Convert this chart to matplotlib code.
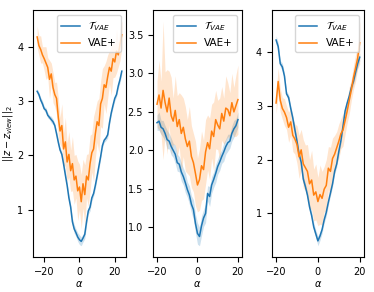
import numpy as np
import matplotlib.pyplot as plt

plt.rcParams['font.size'] = 7

# alpha grid for each panel
alpha1 = np.arange(-24, 25)
alpha2 = np.arange(-20, 21)
alpha3 = np.arange(-20, 21)

# panel 1
blue1 = [3.18, 3.12, 3.02, 2.95, 2.86, 2.83, 2.74, 2.70, 2.66, 2.62, 2.55, 2.40, 2.24, 2.10, 2.02, 1.84,
         1.64, 1.45, 1.22, 1.05, 0.78, 0.65, 0.58, 0.50, 0.45, 0.42, 0.48, 0.55, 0.78, 0.98, 1.05, 1.22,
         1.30, 1.45, 1.62, 1.80, 1.98, 2.18, 2.28, 2.32, 2.38, 2.60, 2.78, 2.92, 3.05, 3.12, 3.28, 3.40, 3.55]
err_b1 = [0.05, 0.04, 0.05, 0.06, 0.04, 0.05, 0.05, 0.04, 0.06, 0.05, 0.04, 0.05, 0.06, 0.05, 0.05, 0.06,
          0.07, 0.06, 0.07, 0.06, 0.07, 0.08, 0.07, 0.08, 0.09, 0.08, 0.07, 0.08, 0.07, 0.06, 0.07, 0.06,
          0.05, 0.06, 0.05, 0.06, 0.05, 0.05, 0.04, 0.05, 0.06, 0.05, 0.04, 0.05, 0.05, 0.04, 0.05, 0.06, 0.05]
orange1 = [4.18, 4.02, 3.95, 3.85, 3.78, 3.70, 3.62, 3.40, 3.50, 3.25, 3.12, 3.05, 2.70, 2.45, 2.55, 2.12,
           2.25, 1.88, 2.02, 1.72, 1.85, 1.55, 1.62, 1.35, 1.42, 1.15, 1.48, 1.28, 1.62, 1.55, 1.85, 2.05,
           2.12, 2.40, 2.62, 2.55, 2.95, 3.05, 3.30, 3.25, 3.45, 3.62, 3.55, 3.78, 3.72, 3.92, 3.85, 4.05, 4.22]
err_o1 = [0.20, 0.18, 0.25, 0.15, 0.22, 0.30, 0.18, 0.35, 0.20, 0.28, 0.22, 0.30, 0.35, 0.25, 0.40, 0.30,
          0.45, 0.35, 0.42, 0.38, 0.50, 0.45, 0.40, 0.55, 0.42, 0.50, 0.45, 0.55, 0.40, 0.48, 0.52, 0.35,
          0.60, 0.45, 0.38, 0.50, 0.42, 0.55, 0.35, 0.48, 0.40, 0.30, 0.45, 0.35, 0.28, 0.40, 0.22, 0.30, 0.25]

# panel 2
blue2 = [2.36, 2.38, 2.30, 2.28, 2.22, 2.14, 2.12, 2.05, 2.00, 1.95, 1.84, 1.82, 1.72, 1.66, 1.58, 1.49,
         1.42, 1.30, 1.23, 1.05, 0.92, 0.88, 1.02, 1.12, 1.18, 1.44, 1.40, 1.55, 1.62, 1.70, 1.79, 1.85,
         1.92, 1.98, 2.05, 2.10, 2.12, 2.22, 2.28, 2.32, 2.40]
err_b2 = [0.10, 0.12, 0.09, 0.11, 0.10, 0.12, 0.10, 0.11, 0.09, 0.12, 0.11, 0.10, 0.12, 0.11, 0.13, 0.10,
          0.12, 0.11, 0.13, 0.12, 0.14, 0.12, 0.13, 0.11, 0.12, 0.10, 0.13, 0.11, 0.10, 0.12, 0.10, 0.11,
          0.09, 0.12, 0.10, 0.11, 0.09, 0.10, 0.11, 0.09, 0.10]
orange2 = [2.60, 2.72, 2.55, 2.78, 2.62, 2.50, 2.68, 2.45, 2.38, 2.52, 2.31, 2.40, 2.22, 2.30, 2.15, 2.05,
           2.12, 1.92, 1.84, 1.70, 1.55, 1.62, 1.80, 1.75, 1.98, 2.10, 2.02, 2.25, 2.18, 2.40, 2.33, 2.28,
           2.48, 2.38, 2.55, 2.53, 2.45, 2.62, 2.50, 2.58, 2.66]
err_o2 = [0.30, 0.45, 0.35, 0.90, 0.40, 0.55, 0.35, 0.50, 0.30, 0.45, 0.40, 0.35, 0.50, 0.38, 0.42, 0.35,
          0.45, 0.40, 0.38, 0.42, 0.35, 0.40, 0.45, 0.38, 0.42, 0.36, 0.40, 0.35, 0.45, 0.38, 0.32, 0.40,
          0.35, 0.30, 0.42, 0.35, 0.30, 0.38, 0.32, 0.40, 0.45]

# panel 3
blue3 = [4.22, 4.10, 3.78, 3.72, 3.55, 3.22, 3.15, 2.95, 2.77, 2.55, 2.34, 2.10, 1.95, 1.64, 1.50, 1.34,
         1.12, 0.96, 0.75, 0.62, 0.49, 0.58, 0.70, 0.88, 1.02, 1.21, 1.38, 1.55, 1.78, 1.92, 2.15, 2.35,
         2.62, 2.90, 3.05, 3.18, 3.34, 3.45, 3.62, 3.78, 3.90]
err_b3 = [0.08, 0.07, 0.06, 0.07, 0.06, 0.05, 0.06, 0.05, 0.06, 0.05, 0.06, 0.05, 0.06, 0.07, 0.06, 0.07,
          0.06, 0.07, 0.08, 0.07, 0.09, 0.08, 0.07, 0.06, 0.07, 0.06, 0.05, 0.06, 0.05, 0.06, 0.05, 0.06,
          0.05, 0.06, 0.05, 0.06, 0.07, 0.06, 0.07, 0.08, 0.07]
orange3 = [3.05, 3.45, 3.10, 2.95, 2.88, 2.78, 2.60, 2.70, 2.45, 2.38, 2.28, 2.05, 2.18, 1.92, 1.85, 1.78,
           1.55, 1.62, 1.34, 1.40, 1.22, 1.35, 1.28, 1.45, 1.52, 1.84, 1.78, 2.02, 2.10, 2.22, 2.34, 2.48,
           2.55, 2.72, 2.90, 3.10, 3.30, 3.52, 3.70, 3.88, 4.17]
err_o3 = [0.20, 0.25, 0.22, 0.20, 0.25, 0.22, 0.28, 0.25, 0.30, 0.28, 0.35, 0.40, 0.38, 0.45, 0.42, 0.50,
          0.45, 0.55, 0.48, 0.52, 0.45, 0.55, 0.50, 0.42, 0.48, 0.40, 0.45, 0.38, 0.35, 0.30, 0.32, 0.28,
          0.30, 0.25, 0.22, 0.25, 0.20, 0.22, 0.25, 0.20, 0.40]

xticks = [-20, 0, 20]

panels = [
    (alpha1, blue1, err_b1, orange1, err_o1),
    (alpha2, blue2, err_b2, orange2, err_o2),
    (alpha3, blue3, err_b3, orange3, err_o3),
]
lefts = [0.088, 0.409, 0.727]
widths = [0.249, 0.238, 0.246]

fig = plt.figure(figsize=(3.74, 2.92), dpi=100)
for i, (x, b, eb, o, eo) in enumerate(panels):
    ax = fig.add_axes([lefts[i], 0.12, widths[i], 0.846])
    b, eb, o, eo = map(np.array, (b, eb, o, eo))
    ax.plot(x, b, color='C0', lw=1.1, label=r'$\mathcal{T}_{VAE}$')
    ax.fill_between(x, b - eb, b + eb, color='C0', alpha=0.22, lw=0)
    ax.plot(x, o, color='C1', lw=1.1, label='VAE+')
    ax.fill_between(x, o - eo, o + eo, color='C1', alpha=0.2, lw=0)
    ax.set_xticks(xticks)
    ax.set_xlabel(r'$\alpha$', labelpad=2)
    ax.legend(loc='upper right', fontsize=7.5, handlelength=1.8)
    if i == 0:
        ax.set_ylabel(r'$||z - z_{view}||_2$')
        ax.yaxis.set_label_coords(-0.19, 0.5)

fig.savefig('out.png', dpi=100)
